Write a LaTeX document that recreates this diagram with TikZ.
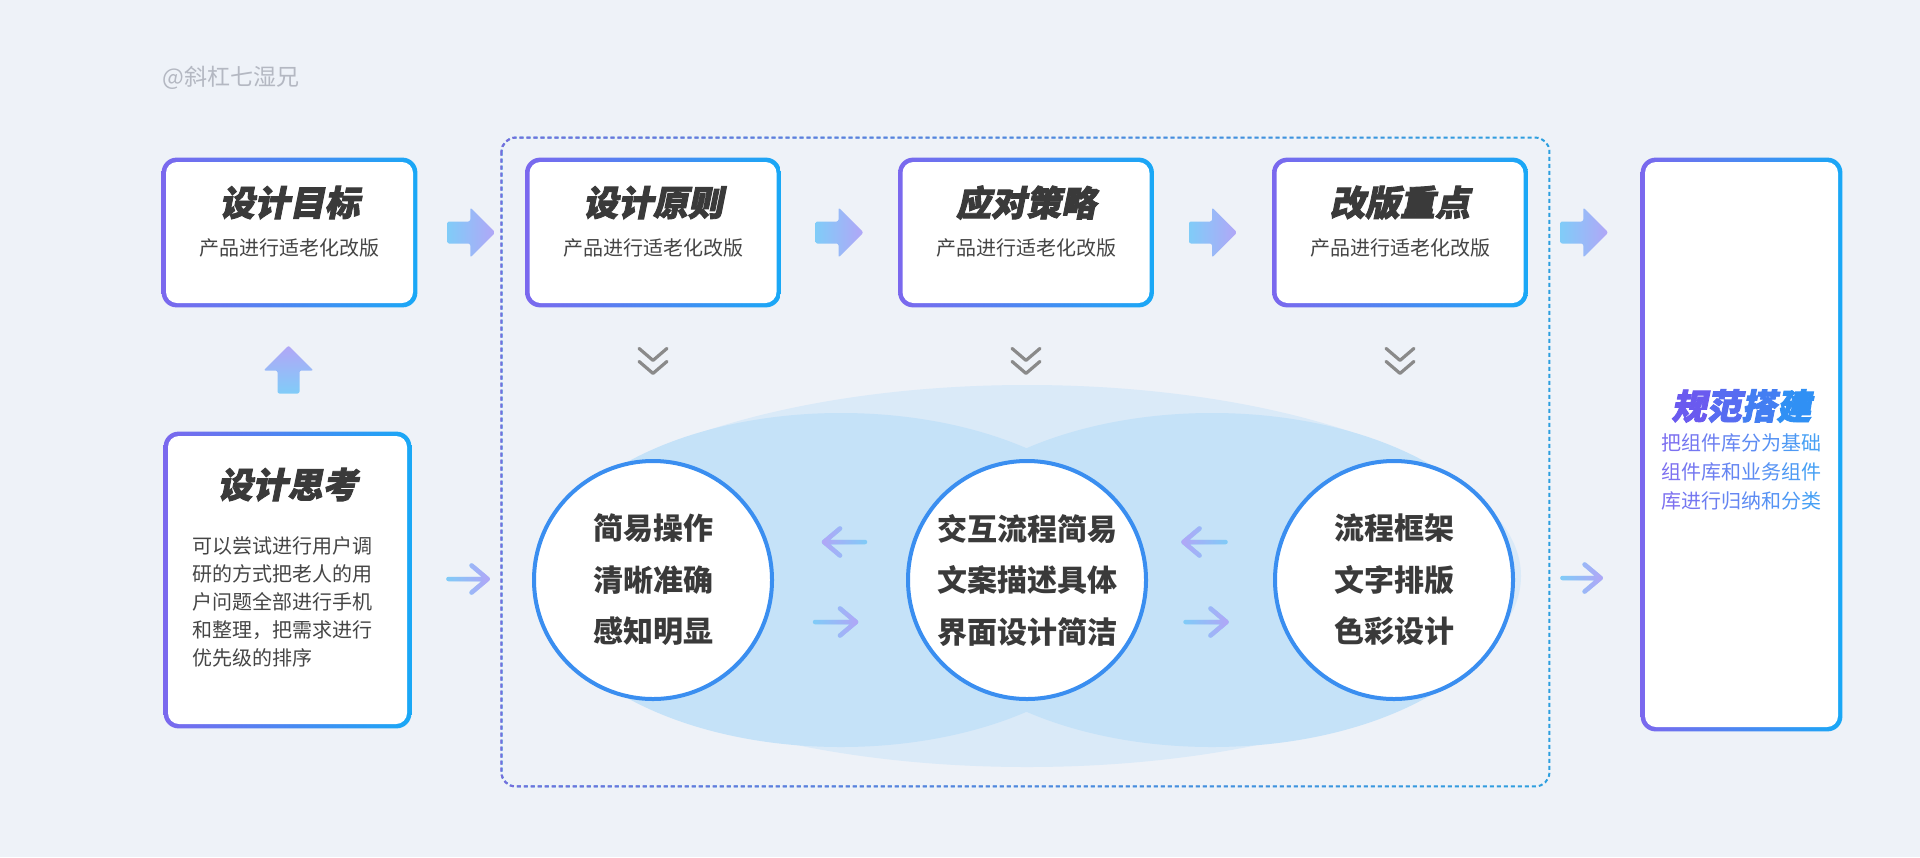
\documentclass[tikz,border=0pt]{standalone}
\usepackage{fontspec}
\newfontfamily\cjk{Noto Sans CJK SC}
\newfontfamily\cjktitle[FakeSlant=0.2,FakeBold=2.5]{Noto Sans CJK SC}
\usetikzlibrary{calc,fadings}
\pgfdeclarelayer{bglayer}
\pgfdeclarelayer{framelayer}
\pgfsetlayers{bglayer,framelayer,main}

\definecolor{bgc}{HTML}{EEF2F8}
\definecolor{gA}{HTML}{7B68EE}
\definecolor{gB}{HTML}{19A8F6}
\definecolor{ellOut}{HTML}{DAEAF8}
\definecolor{ellIn}{HTML}{C5E2F8}
\definecolor{cirB}{HTML}{3A8EF0}
\definecolor{txt}{HTML}{3A3A3A}
\definecolor{subc}{HTML}{454545}
\definecolor{arrL}{HTML}{80CCF8}
\definecolor{arrV}{HTML}{B2A6F7}
\definecolor{chev}{HTML}{8A8A8A}
\definecolor{wmc}{HTML}{B4B8C2}
\definecolor{frA}{HTML}{7A6CDC}
\definecolor{frB}{HTML}{2DA0E0}
\definecolor{tA}{HTML}{6A5AEF}
\definecolor{tB}{HTML}{3090F4}
\definecolor{bA}{HTML}{7D70F0}
\definecolor{bB}{HTML}{45A0F5}

\tikzset{
  card/.style={fill=white, rounded corners=5.5pt, inner sep=0pt, draw=none},
  ttl/.style={font=\cjktitle\bfseries\fontsize{17.5}{20}\selectfont, text=txt, inner sep=0pt},
  subt/.style={font=\cjk\fontsize{10}{12}\selectfont, text=subc, inner sep=0pt},
  bodytxt/.style={font=\cjk\fontsize{10}{14}\selectfont, text=subc, inner sep=0pt},
  circ/.style={circle, fill=white, draw=cirB, line width=2pt, minimum size=119pt, inner sep=0pt, align=center, font=\cjk\bfseries\fontsize{15}{25.75}\selectfont, text=txt},
  fatarr/.style={left color=arrL, right color=arrV, rounded corners=1pt},
  thinarr/.style={line width=2.25pt, line cap=round, line join=round},
  chevline/.style={draw=chev, line width=1.6pt, line cap=round, line join=round},
  dashfr/.style={line width=1pt, dash pattern=on 2pt off 1.5pt, rounded corners=7pt},
}

\newcommand\gframe[1]{\shade[left color=gA, right color=gB, rounded corners=7.5pt] ([shift={(-4,4)}]#1.south west) rectangle ([shift={(4,-4)}]#1.north east);}
\newcommand\fatarrow[1]{\shade[fatarr, shift={#1}] (-24,-11) -- (-1,-11) -- (-1,-25) -- (24,0) -- (-1,25) -- (-1,11) -- (-24,11) -- cycle;}
\newcommand\uparrowshape[1]{\shade[bottom color=arrL, top color=arrV, rounded corners=1pt, shift={#1}] (-11,24) -- (-11,1) -- (-25,1) -- (0,-24) -- (25,1) -- (11,1) -- (11,24) -- cycle;}
% right-pointing thin arrow: tail, tip
\newcommand\rarrow[2]{%
  \draw[thinarr, draw=arrL] #1 -- #2 ++(-16,-13.5) -- #2 -- ++(-16,13.5);
  \draw[thinarr, draw=arrV, path fading=west] #1 -- #2 ++(-16,-13.5) -- #2 -- ++(-16,13.5);}
\newcommand\larrow[2]{%
  \draw[thinarr, draw=arrL] #1 -- #2 ++(16,-13.5) -- #2 -- ++(16,13.5);
  \draw[thinarr, draw=arrV, path fading=east] #1 -- #2 ++(16,-13.5) -- #2 -- ++(16,13.5);}
\newcommand\chevron[1]{\draw[chevline, shift={#1}] (-14,-13) -- (0,-1) -- (14,-13) (-14,0) -- (0,12) -- (14,0);}
\newcommand\gc[2]{\textcolor{bB!#1!bA}{#2}}

\begin{document}
\begin{tikzpicture}[x=0.5pt, y=-0.5pt]
\useasboundingbox (0,0) rectangle (1920,857);
\begin{pgfonlayer}{bglayer}
  \fill[bgc] (0,0) rectangle (1920,857);
  \fill[ellOut] (1027,576) ellipse [x radius=494, y radius=191];
  \fill[ellIn] (841,580) ellipse [x radius=302, y radius=167];
  \fill[ellIn] (1212,580) ellipse [x radius=302, y radius=167];
\end{pgfonlayer}

% watermark
\node[anchor=west, font=\cjk\fontsize{11.5}{12}\selectfont, text=wmc, inner sep=0pt] (wm) at (162,78) {@斜杠七湿兄};

% dashed frame
\node[draw=none, inner sep=0pt, minimum width=523.5pt, minimum height=324pt] (frame) at (1025.5,462) {};
\draw[dashfr, draw=frB] (frame.north west) rectangle (frame.south east);
\draw[dashfr, draw=frA, path fading=east] (frame.north west) rectangle (frame.south east);

% cards
\node[card, minimum width=123.5pt, minimum height=70.5pt] (b1) at (289.5,232.5) {};
\node[card, minimum width=123.5pt, minimum height=70.5pt] (b2) at (653,232.5) {};
\node[card, minimum width=123.5pt, minimum height=70.5pt] (b3) at (1026,232.5) {};
\node[card, minimum width=123.5pt, minimum height=70.5pt] (b4) at (1400,232.5) {};
\node[card, minimum width=119.5pt, minimum height=144pt] (b5) at (287.5,580) {};
\node[card, minimum width=96.5pt, minimum height=282.5pt] (b6) at (1741.5,444.5) {};

\begin{pgfonlayer}{framelayer}
  \gframe{b1}\gframe{b2}\gframe{b3}\gframe{b4}\gframe{b5}\gframe{b6}
\end{pgfonlayer}

\node[ttl] (b1t) at ($(b1.north)+(0,41)$) {设计目标};
\node[subt] (b1s) at ($(b1.north)+(0,86)$) {产品进行适老化改版};
\node[ttl] (b2t) at ($(b2.north)+(0,41)$) {设计原则};
\node[subt] (b2s) at ($(b2.north)+(0,86)$) {产品进行适老化改版};
\node[ttl] (b3t) at ($(b3.north)+(0,41)$) {应对策略};
\node[subt] (b3s) at ($(b3.north)+(0,86)$) {产品进行适老化改版};
\node[ttl] (b4t) at ($(b4.north)+(0,41)$) {改版重点};
\node[subt] (b4s) at ($(b4.north)+(0,86)$) {产品进行适老化改版};

\node[ttl] (b5t) at ($(b5.north)+(0,49)$) {设计思考};
\node[bodytxt, align=left, anchor=west] (b5b) at ($(b5.west)+(24,22)$) {可以尝试进行用户调\\研的方式把老人的用\\户问题全部进行手机\\和整理，把需求进行\\优先级的排序};

\node[ttl] (b6t) at ($(b6.center)+(0,-38.5)$) {\textcolor{tB!0!tA}{规}\textcolor{tB!33!tA}{范}\textcolor{tB!67!tA}{搭}\textcolor{tB!100!tA}{建}};
\node[bodytxt, align=center, font=\cjk\fontsize{10}{14.5}\selectfont] (b6b) at ($(b6.center)+(0,27.5)$) {%
\gc{0}{把}\gc{14}{组}\gc{29}{件}\gc{43}{库}\gc{57}{分}\gc{71}{为}\gc{86}{基}\gc{100}{础}\\
\gc{0}{组}\gc{14}{件}\gc{29}{库}\gc{43}{和}\gc{57}{业}\gc{71}{务}\gc{86}{组}\gc{100}{件}\\
\gc{0}{库}\gc{14}{进}\gc{29}{行}\gc{43}{归}\gc{57}{纳}\gc{71}{和}\gc{86}{分}\gc{100}{类}};

% circles
\node[circ] (c1) at (653,580) {简易操作\\清晰准确\\感知明显};
\node[circ] (c2) at (1027,580) {交互流程简易\\文案描述具体\\界面设计简洁};
\node[circ] (c3) at (1394,580) {流程框架\\文字排版\\色彩设计};

% fat arrows
\fatarrow{($(b1.east)!0.5!(b2.west)$)}
\fatarrow{($(b2.east)!0.5!(b3.west)$)}
\fatarrow{($(b3.east)!0.5!(b4.west)$)}
\fatarrow{($(b4.east)!0.5!(b4.east -| b6.west)$)}
\uparrowshape{($(b1.south)!0.5!(b5.north)$)}

% chevrons
\chevron{($(b2.south)+(0,58)$)}
\chevron{($(b3.south)+(0,58)$)}
\chevron{($(b4.south)+(0,58)$)}

% thin arrows
\coordinate (m12) at ($(c1.east)!0.5!(c2.west)$);
\coordinate (m23) at ($(c2.east)!0.5!(c3.west)$);
\larrow{($(m12)+(25,-38)$)}{($(m12)+(-16,-38)$)}
\rarrow{($(m12)+(-25,42)$)}{($(m12)+(16,42)$)}
\larrow{($(m23)+(15,-38)$)}{($(m23)+(-27,-38)$)}
\rarrow{($(m23)+(-25,42)$)}{($(m23)+(16,42)$)}
\rarrow{($(b5.east)+(41,-1)$)}{($(frame.west |- b5.east)+(-14,-1)$)}
\rarrow{($(frame.east |- b5.east)+(13,-2)$)}{($(b6.west |- b5.east)+(-44,-2)$)}
\end{tikzpicture}
\end{document}
